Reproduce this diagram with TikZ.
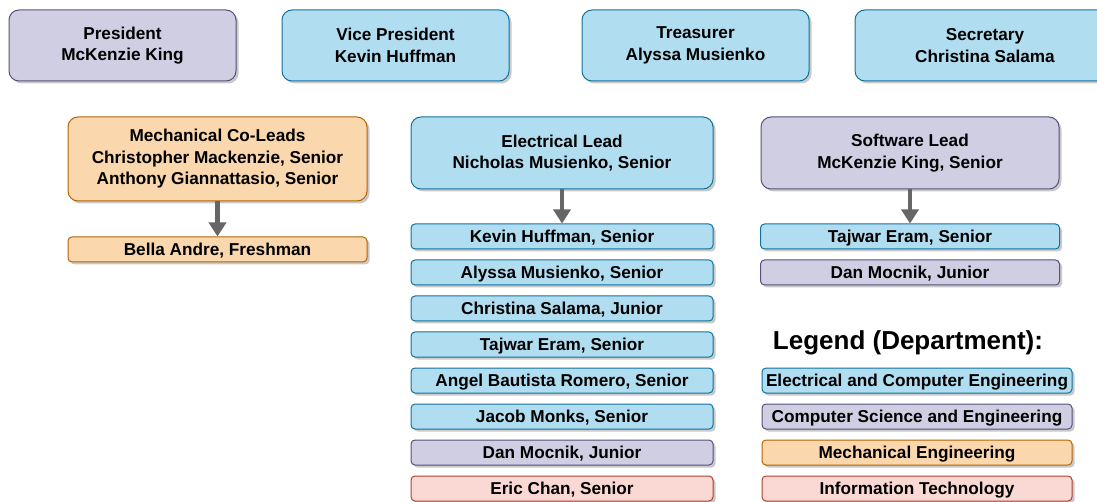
\documentclass[tikz,border=0pt]{standalone}
\usepackage{fontspec}
\setmainfont{Liberation Sans}
\usetikzlibrary{arrows.meta,positioning,shadows}
\definecolor{ecFill}   {HTML}{B1DDF0}
\definecolor{ecLine}   {HTML}{10739E}
\definecolor{csFill}   {HTML}{D0CEE2}
\definecolor{csLine}   {HTML}{56517E}
\definecolor{meFill}   {HTML}{FAD7AC}
\definecolor{meLine}   {HTML}{B46504}
\definecolor{itFill}   {HTML}{FAD9D5}
\definecolor{itLine}   {HTML}{AE4132}
\definecolor{arrowGray}{HTML}{666666}

\tikzset{
  card/.style={draw,line width=1pt,rounded corners=4pt,inner sep=0pt,
               font=\fontsize{17.2}{21.5}\selectfont\bfseries,
               drop shadow={shadow xshift=2.5pt,shadow yshift=-2.5pt,opacity=.3,fill=black!70}},
  officer/.style={card,align=center,rounded corners=10pt,minimum width=227pt,minimum height=71pt},
  lead/.style={card,align=center,rounded corners=10pt,minimum height=72pt},
  member/.style={card,minimum width=302pt,minimum height=25pt,text height=12.4pt,text depth=0.8pt},
  ece/.style={fill=ecFill,draw=ecLine},
  cse/.style={fill=csFill,draw=csLine},
  mech/.style={fill=meFill,draw=meLine},
  infot/.style={fill=itFill,draw=itLine},
  down/.style={draw=arrowGray,line width=4.5pt,-{Triangle[width=17pt,length=14pt]}}
}

\begin{document}
\begin{tikzpicture}[x=1pt,y=-1pt]
  \useasboundingbox (0,0) rectangle (1097,502);

  % officers
  \node[officer,cse] (pres)  at (122.5,45.5) {President\\McKenzie King};
  \node[officer,ece] (vp)    at (395.5,45.5) {Vice President\\Kevin Huffman};
  \node[officer,ece] (treas) at (695.5,45.5) {Treasurer\\Alyssa Musienko};
  \node[officer,ece,minimum width=260pt] (sec) at (985,45.5) {Secretary\\Christina Salama};

  % mechanical
  \node[lead,mech,minimum width=299pt,minimum height=84pt] (mechlead) at (217.5,159)
    {Mechanical Co-Leads\\Christopher Mackenzie, Senior\\Anthony Giannattasio, Senior};
  \node[member,mech,minimum width=299pt,below=35pt of mechlead] (bella) {Bella Andre, Freshman};
  \draw[down] (mechlead.south) -- (bella.north);

  % electrical
  \node[lead,ece,minimum width=302pt] (eleclead) at (562,153) {Electrical Lead\\Nicholas Musienko, Senior};
  \node[member,ece,below=34pt of eleclead] (kevin)     {Kevin Huffman, Senior};
  \node[member,ece,below=10pt of kevin]    (alyssa)    {Alyssa Musienko, Senior};
  \node[member,ece,below=10pt of alyssa]   (christina) {Christina Salama, Junior};
  \node[member,ece,below=10pt of christina](tajwar)    {Tajwar Eram, Senior};
  \node[member,ece,below=10pt of tajwar]   (angel)     {Angel Bautista Romero, Senior};
  \node[member,ece,below=10pt of angel]    (jacob)     {Jacob Monks, Senior};
  \node[member,cse,below=10pt of jacob]    (dan)       {Dan Mocnik, Junior};
  \node[member,infot,below=10pt of dan]    (eric)      {Eric Chan, Senior};
  \draw[down] (eleclead.south) -- (kevin.north);

  % software
  \node[lead,cse,minimum width=298pt] (swlead) at (910,153) {Software Lead\\McKenzie King, Senior};
  \node[member,ece,minimum width=299pt,below=34pt of swlead] (swtajwar) {Tajwar Eram, Senior};
  \node[member,cse,minimum width=299pt,below=10pt of swtajwar] (swdan) {Dan Mocnik, Junior};
  \draw[down] (swlead.south) -- (swtajwar.north);

  % legend
  \node[font=\fontsize{26}{30}\selectfont\bfseries] (legend) at (908,343) {Legend (Department):};
  \node[member,ece,minimum width=310pt] (keyece) at (917,380.5) {Electrical and Computer Engineering};
  \node[member,cse,minimum width=310pt,below=10pt of keyece]  (keycse)  {Computer Science and Engineering};
  \node[member,mech,minimum width=310pt,below=10pt of keycse] (keymech) {Mechanical Engineering};
  \node[member,infot,minimum width=310pt,below=10pt of keymech] (keyit) {Information Technology};
\end{tikzpicture}
\end{document}
